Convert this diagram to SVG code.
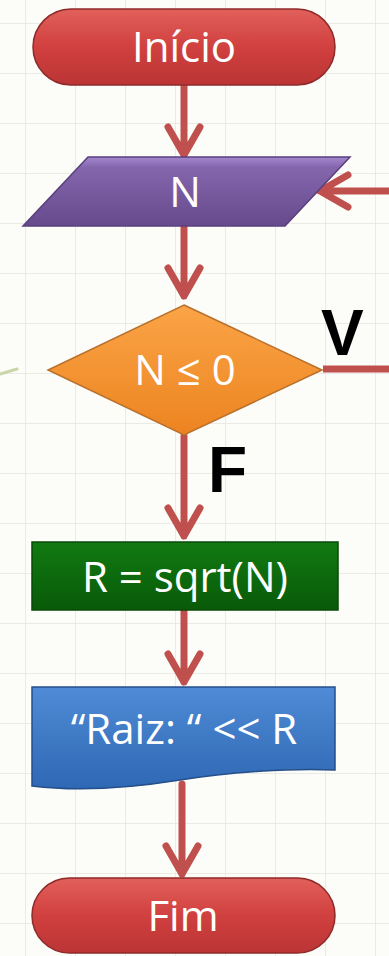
<svg xmlns="http://www.w3.org/2000/svg" width="389" height="956" viewBox="0 0 389 956">
<defs>
<linearGradient id="gRed" x1="0" y1="0" x2="0" y2="1"><stop offset="0" stop-color="#E2605B"/><stop offset="0.5" stop-color="#D0403F"/><stop offset="1" stop-color="#BC3435"/></linearGradient>
<linearGradient id="gPur" x1="0" y1="0" x2="0" y2="1"><stop offset="0" stop-color="#A488CE"/><stop offset="0.15" stop-color="#8466AD"/><stop offset="1" stop-color="#674A8C"/></linearGradient>
<linearGradient id="gOra" x1="0" y1="0" x2="0" y2="1"><stop offset="0" stop-color="#FBA447"/><stop offset="1" stop-color="#EC8420"/></linearGradient>
<linearGradient id="gGrn" x1="0" y1="0" x2="0" y2="1"><stop offset="0" stop-color="#117A11"/><stop offset="1" stop-color="#095A09"/></linearGradient>
<linearGradient id="gBlu" x1="0" y1="0" x2="0" y2="1"><stop offset="0" stop-color="#4F8BD6"/><stop offset="1" stop-color="#2F68B4"/></linearGradient>
<pattern id="grid" x="25" y="23" width="50" height="50" patternUnits="userSpaceOnUse">
<path d="M0 0V50M0 0H50" fill="none" stroke="#E6E6E0" stroke-width="1.5"/>
</pattern>
</defs>
<style>
.lbl{font-family:"Open Sans","Liberation Sans",sans-serif;fill:#FFFFFF;text-anchor:middle;font-size:42px}
.tf{font-family:"Liberation Sans","DejaVu Sans",sans-serif;font-weight:bold;fill:#000000}
.con{fill:none;stroke:#C0504D;stroke-width:7;stroke-linecap:round;stroke-linejoin:round}
.edge{stroke-width:1.5}
</style>
<rect width="389" height="956" fill="#FCFCF9"/>
<rect width="389" height="956" fill="url(#grid)"/>

<g id="connectors">
<path class="con" d="M184 86V155M168 127L184 155L200 127"/>
<path class="con" d="M184 227V296M168 268L184 296L200 268"/>
<path class="con" d="M392 191H320M348 175L320 191L348 207"/>
<path class="con" d="M184 436V536M168 508L184 536L200 508"/>
<path class="con" d="M184 611V682M168 654L184 682L200 654"/>
<path class="con" d="M182 784V874M166 846L182 874L198 846"/>
<path d="M323 369H392" fill="none" stroke="#C0504D" stroke-width="7"/>
<path d="M0 374L17 369" fill="none" stroke="#C9D6A6" stroke-width="3" stroke-linecap="round"/>
</g>

<g id="node-inicio">
<rect x="33" y="9" width="302" height="76" rx="38" fill="url(#gRed)" stroke="#8E2A2A" class="edge"/>
<text class="lbl" x="184" y="62">Início</text>
</g>

<g id="node-n">
<polygon points="88,157 350,157 285,226 23,226" fill="url(#gPur)" stroke="#5A3F7D" class="edge"/>
<text class="lbl" x="185" y="207">N</text>
</g>

<g id="node-cond">
<polygon points="184,305 322,370 184,435 48,370" fill="url(#gOra)" stroke="#B8702C" class="edge"/>
<text class="lbl" x="185" y="385">N ≤ 0</text>
</g>
<text class="tf" x="321" y="355" font-size="64">V</text>
<text class="tf" x="208" y="492" font-size="64">F</text>

<g id="node-calc">
<rect x="32" y="542" width="306" height="68" fill="url(#gGrn)" stroke="#084A08" class="edge"/>
<text class="lbl" x="185" y="592">R = sqrt(N)</text>
</g>

<g id="node-out">
<path d="M32 687H335V770C290 768 230 772 180 780C130 788 80 792 32 786Z" fill="url(#gBlu)" stroke="#244F8A" class="edge"/>
<text class="lbl" x="184" y="744">“Raiz: “ &lt;&lt; R</text>
</g>

<g id="node-fim">
<rect x="32" y="878" width="303" height="75" rx="37.5" fill="url(#gRed)" stroke="#8E2A2A" class="edge"/>
<text class="lbl" x="183" y="931">Fim</text>
</g>
</svg>
